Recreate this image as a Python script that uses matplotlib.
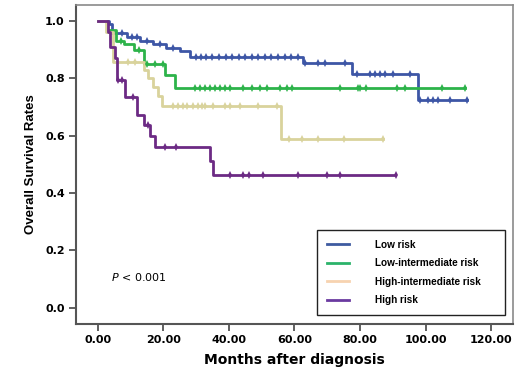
import numpy as np
import matplotlib
matplotlib.use('Agg')
import matplotlib.pyplot as plt
from matplotlib.lines import Line2D

# Kaplan-Meier step points (time in months, survival)
low_t = [0, 3.5, 4.5, 9, 13, 17, 21, 25, 28.2, 62.6, 77.5, 97.7]
low_s = [1.0, 0.99, 0.958, 0.945, 0.93, 0.92, 0.906, 0.895, 0.876, 0.853, 0.815, 0.725]
low_end = 112.6
low_cens = [7.4, 10.5, 12, 15, 19, 23, 30, 31.5, 33, 35, 37, 39, 41, 43, 45, 47, 49, 51,
            53, 55, 57, 59, 61, 63.2, 67.2, 69.3, 75.4, 79, 83, 84.5, 86, 87.6, 90, 95.2,
            98.3, 100.7, 102.3, 103.7, 107.4, 112.6]

lowint_t = [0, 3, 5.5, 8, 11, 14, 20.5, 23.6]
lowint_s = [1.0, 0.97, 0.93, 0.92, 0.90, 0.85, 0.81, 0.765]
lowint_end = 112
lowint_cens = [7, 12.5, 15, 17.5, 20, 29.7, 31.2, 32.7, 34.3, 35.8, 37.3, 38.8, 40.3, 44.3,
               47, 49.5, 51.6, 55.6, 57.7, 59.2, 73.9, 79.4, 80, 81.8, 91.3, 93.7, 105, 112]

highint_t = [0, 2.5, 4.8, 14, 15.5, 17, 18.5, 19.6, 55.8]
highint_s = [1.0, 0.96, 0.857, 0.83, 0.80, 0.77, 0.74, 0.705, 0.587]
highint_end = 87
highint_cens = [9.3, 11.4, 23, 24.5, 26, 27.2, 29.1, 30.6, 31.8, 32.7, 35.2, 38.8, 40.3,
                43.4, 48.9, 54.7, 58.3, 62.3, 67.2, 75.1, 87]

high_t = [0, 3.2, 3.8, 5.3, 5.8, 8.3, 12, 14, 16, 17.5, 34.3, 35.2]
high_s = [1.0, 0.96, 0.91, 0.87, 0.795, 0.735, 0.672, 0.637, 0.60, 0.56, 0.51, 0.463]
high_end = 90.7
high_cens = [6.2, 7.4, 10.8, 15.3, 20.5, 23.9, 40.4, 44.3, 46.1, 50.4, 61, 69.9, 73.9, 91]

labels = ['Low risk', 'Low-intermediate risk', 'High-intermediate risk', 'High risk']
line_colors = ['#3d56a6', '#2db34a', '#d9d39c', '#6c2a84']
legend_colors = ['#3e5ba0', '#2bb36a', '#f7d3b0', '#6a3aa0']

x_ticks = [0, 20, 40, 60, 80, 100, 120]
y_ticks = [0.0, 0.2, 0.4, 0.6, 0.8, 1.0]

groups = [(low_t, low_s, low_end, low_cens),
          (lowint_t, lowint_s, lowint_end, lowint_cens),
          (highint_t, highint_s, highint_end, highint_cens),
          (high_t, high_s, high_end, high_cens)]

fig = plt.figure(figsize=(5.2, 3.69), dpi=100)
ax = fig.add_axes([0.146, 0.1228, 0.8405, 0.8637])

for (t, s, end, cens), col in zip(groups, line_colors):
    tt = list(t) + [end]
    ss = list(s) + [s[-1]]
    ax.step(tt, ss, where='post', color=col, lw=2.0, zorder=3)
    cy = [s[np.searchsorted(t, c, side='right') - 1] for c in cens]
    ax.plot(cens, cy, ls='none', marker='d', ms=4, color=col, mew=0, zorder=4)

ax.set_xlim(-6.6, 126.6)
ax.set_ylim(-0.056, 1.056)
ax.set_xticks(x_ticks)
ax.set_xticklabels(['%.2f' % v for v in x_ticks], fontweight='bold', fontsize=8)
ax.set_yticks(y_ticks)
ax.set_yticklabels(['%.1f' % v for v in y_ticks], fontweight='bold', fontsize=8)
ax.tick_params(direction='out', length=5, width=1.2, color='#444444', pad=3)

for side in ['left', 'bottom']:
    ax.spines[side].set_color('#555555')
    ax.spines[side].set_linewidth(1.5)
for side in ['top', 'right']:
    ax.spines[side].set_color('#8a8a8a')
    ax.spines[side].set_linewidth(1.2)

ax.set_xlabel('Months after diagnosis', fontweight='bold', fontsize=10, labelpad=6)
ax.set_ylabel('Overall Survival Rates', fontsize=9.5, family='Liberation Sans',
              fontweight='bold', labelpad=6)

ax.text(4.1, 0.107, r'$P$ < 0.001', fontsize=8, va='center', ha='left')

handles = [Line2D([], [], color=c, lw=2) for c in legend_colors]
leg = ax.legend(handles, labels, loc='lower left', mode='expand',
                bbox_to_anchor=(0.551, 0.027, 0.431, 0.26),
                fancybox=False, edgecolor='#222222', framealpha=1,
                prop={'family': 'Liberation Sans', 'weight': 'bold', 'size': 7.2},
                handlelength=2.2, handletextpad=2.6, labelspacing=0.85,
                borderpad=1.0, borderaxespad=0)
leg.get_frame().set_linewidth(1.0)

fig.savefig('out.png', dpi=100)
